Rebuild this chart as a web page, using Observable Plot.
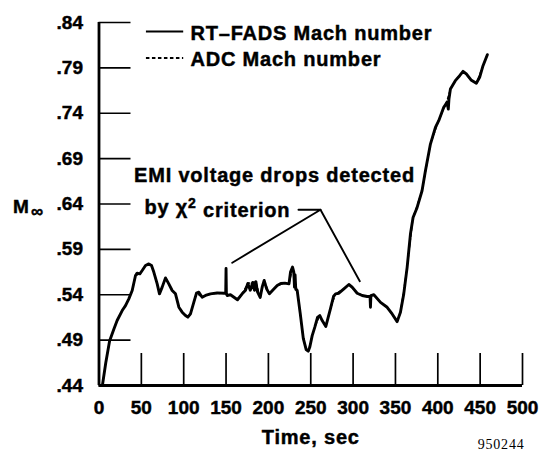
<!DOCTYPE html>
<html><head><meta charset="utf-8">
<script src="https://cdn.jsdelivr.net/npm/d3@7"></script>
<script src="https://cdn.jsdelivr.net/npm/@observablehq/plot@0.6"></script>
<style>
body{margin:0;background:#fff;}
#chart{width:548px;height:452px;}
g[aria-label="text"] text{letter-spacing:0.8px;}
svg text.heavy{stroke:#000;stroke-width:0.45px;}
</style></head><body><div id="chart"></div>
<script>
// RT-FADS Mach number (solid line)
const fadsTime = [4,8,12.5,17.5,21.4,27.4,31.3,35.2,39.2,43.1,45,48.2,51,54.9,58.8,62,64.7,68.7,71.4,74.6,78.5,82.4,86.4,90.3,94.3,98.2,102.1,104.9,108,112,115.1,117.9,121.8,125.7,131.6,139.5,147.4,149.6,150.0,150.4,151.3,155.2,163.5,169,173,175.7,178.6,181.5,183.5,185.2,187,190.3,192.8,195,197.9,201.2,205.6,210.4,214.6,219.4,224.3,226.1,228.5,230,230.8,231.5,232.3,234,237.5,241.2,244.6,247,248.9,251.7,254.8,258,260.7,263.5,267.8,270.2,273.3,277,279.3,283.2,289.1,295,298.9,304.8,310.7,316.6,320.0,320.5,321.0,324.5,332.4,340.2,346.1,352,355.9,359.8,363.8,367.7,370.8,375.6,381.4,385.4,391.3,397.2,401.1,407,410.9,412.4,413.2,414.9,420.7,425.8,429.8,433.7,439.2,445.5,449.4,453.4,458.5];
const fadsMach = [0.440,0.465,0.489,0.502,0.5116,0.5226,0.528,0.5355,0.5447,0.5612,0.5638,0.563,0.5667,0.5722,0.574,0.5722,0.565,0.552,0.541,0.5484,0.5586,0.552,0.5447,0.541,0.5263,0.5208,0.5171,0.5153,0.519,0.5318,0.5417,0.5428,0.5373,0.5392,0.541,0.5421,0.5417,0.5417,0.5690,0.5410,0.5392,0.540,0.5345,0.5410,0.5450,0.5525,0.5450,0.5535,0.5450,0.5545,0.5435,0.5370,0.5490,0.5557,0.5465,0.5410,0.5454,0.5502,0.5525,0.5528,0.5520,0.5649,0.5706,0.5649,0.5484,0.5620,0.5460,0.5447,0.5200,0.4920,0.4795,0.4778,0.4825,0.4950,0.5043,0.5150,0.5171,0.5116,0.5050,0.5138,0.5248,0.5385,0.5410,0.5417,0.5465,0.5513,0.5484,0.5417,0.5392,0.5381,0.5385,0.5263,0.5390,0.5400,0.5316,0.5262,0.5188,0.5104,0.5207,0.5409,0.5702,0.6069,0.6252,0.6362,0.6546,0.6766,0.7060,0.7244,0.7318,0.7465,0.7520,0.7446,0.7560,0.7667,0.7759,0.7814,0.7862,0.7833,0.7767,0.7730,0.7796,0.7924,0.8045];
// ADC Mach number (dotted line, mostly hidden under the RT-FADS trace)
const adcTime = [4,8,12.5,17.5,21.4,27.4,31.3,35.2,39.2,43.1,48.2,54.9,58.8,62,64.7,68.7,71.4,74.6,78.5,82.4,86.4,90.3,94.3,98.2,104.9,108,112,115.1,121.8,131.6,147.4,155.2,163.5,169,175.7,181.5,185.2,190.3,195,201.2,210.4,219.4,224.3,228.5,232.3,234,237.5,241.2,244.6,247,251.7,254.8,260.7,263.5,267.8,273.3,279.3,289.1,295,304.8,316.6,324.5,332.4,340.2,352,355.9,363.8,370.8,381.4,391.3,401.1,410.9,414.9,420.7,429.8,439.2,445.5,453.4,458.5];
const adcMach = [0.440,0.465,0.489,0.502,0.5116,0.5226,0.528,0.5355,0.5447,0.5612,0.563,0.5722,0.574,0.5722,0.565,0.552,0.541,0.5484,0.5586,0.552,0.5447,0.541,0.5263,0.5208,0.5153,0.519,0.5318,0.5417,0.5373,0.541,0.5417,0.540,0.5345,0.5410,0.5525,0.5535,0.5545,0.5370,0.5557,0.5410,0.5502,0.5528,0.5520,0.5690,0.5500,0.5447,0.5200,0.4920,0.4795,0.4778,0.4950,0.5043,0.5171,0.5116,0.5050,0.5248,0.5410,0.5465,0.5513,0.5417,0.5381,0.5400,0.5316,0.5262,0.5104,0.5207,0.5702,0.6252,0.6546,0.7060,0.7318,0.7540,0.7667,0.7759,0.7862,0.7767,0.7730,0.7924,0.8045];

const xTicks = [0,50,100,150,200,250,300,350,400,450,500];
const yTicks = [0.44,0.49,0.54,0.59,0.64,0.69,0.74,0.79,0.84];
const yTickLabels = [".44",".49",".54",".59",".64",".69",".74",".79",".84"];
const legendLabels = ["RT\u2013FADS Mach number","ADC Mach number"];
const noteLines = ["EMI voltage drops detected","by \u03c7\u00b2 criterion"];
const xTitle = "Time, sec";
const yTitle = "M";
const yTitleSub = "\u221e";
const figureId = "950244";

const fads = fadsTime.map((t,i)=>({t, m: fadsMach[i]}));
const adc = adcTime.map((t,i)=>({t, m: adcMach[i]}));

// annotation anchors (data space)
const legendRows = [
  {x1: 56, x2: 100, xt: 108, y: 0.8301, label: legendLabels[0]},
  {x1: 56, x2: 100, xt: 108, y: 0.8009, label: legendLabels[1]}
];
const noteText = [
  {x: 41.4, y: 0.6639, label: noteLines[0]},
  {x: 53.7, y: 0.6292, label: noteLines[1]}
];
const leaderA = [{t:235.5,m:0.6336},{t:261.5,m:0.6336},{t:157.3,m:0.5753}];
const leaderB = [{t:261.5,m:0.6336},{t:307.9,m:0.5549}];

const font = "'Liberation Sans', Arial, Helvetica, sans-serif";

const chart = Plot.plot({
  width: 548, height: 452,
  marginLeft: 98.5, marginRight: 26, marginTop: 22, marginBottom: 67,
  x: {domain: [0, 500]},
  y: {domain: [0.44, 0.84]},
  style: {background: "#fff", color: "#000", fontFamily: font, fontWeight: "bold", overflow: "visible"},
  marks: [
    Plot.axisX({ticks: xTicks, tickSize: -32, tickPadding: 47, fontSize: 19, strokeWidth: 1.7, label: null, tickFormat: d => String(d)}),
    Plot.axisY({ticks: yTicks, tickSize: -32, tickPadding: 48, fontSize: 19, strokeWidth: 1.7, label: null, tickFormat: (d) => yTickLabels[yTicks.findIndex(v => Math.abs(v - d) < 1e-9)]}),
    Plot.ruleX([0], {strokeWidth: 2.8}),
    Plot.ruleY([0.44], {strokeWidth: 2.8}),
    Plot.line(adc, {x: "t", y: "m", stroke: "#000", strokeWidth: 1.4, strokeDasharray: "3,2.5"}),
    Plot.line(fads, {x: "t", y: "m", stroke: "#000", strokeWidth: 2.9, strokeLinejoin: "round"}),
    Plot.line(leaderA, {x: "t", y: "m", stroke: "#000", strokeWidth: 1.9}),
    Plot.line(leaderB, {x: "t", y: "m", stroke: "#000", strokeWidth: 1.9}),
    Plot.ruleY([legendRows[0]], {x1: "x1", x2: "x2", y: "y", strokeWidth: 1.9}),
    Plot.ruleY([legendRows[1]], {x1: "x1", x2: "x2", y: "y", strokeWidth: 1.8, strokeDasharray: "3.5,2.5"}),
    Plot.text(legendRows, {x: "xt", y: "y", text: "label", textAnchor: "start", fontSize: 20, dy: 2}),
    Plot.text(noteText, {x: "x", y: "y", text: "label", textAnchor: "start", lineAnchor: "bottom", fontSize: 20}),
    Plot.text([xTitle], {frameAnchor: "bottom", text: d => d, lineAnchor: "bottom", dy: 58, fontSize: 20}),
    Plot.text([figureId], {frameAnchor: "bottom-right", text: d => d, textAnchor: "end", lineAnchor: "bottom", dy: 63, dx: 2, fontSize: 14, fontWeight: "normal", fontFamily: "'Liberation Serif', 'Times New Roman', serif"}),
    Plot.text([yTitle], {frameAnchor: "left", text: d => d, textAnchor: "start", lineAnchor: "bottom", dx: -86, dy: 8.5, fontSize: 19}),
    Plot.text([yTitleSub], {frameAnchor: "left", text: d => d, textAnchor: "start", lineAnchor: "bottom", dx: -68, dy: 13, fontSize: 17})
  ]
});
// heavier weight for the bold lettering, like the scanned original
d3.select(chart).selectAll("text").each(function() {
  const t = d3.select(this);
  if (t.text() !== figureId) t.classed("heavy", true);
  if (t.text() === noteLines[1]) {
    t.text(null);
    t.append("tspan").text("by \u03c7");
    t.append("tspan").attr("dy", "-0.45em").attr("font-size", "14px").text("2");
    t.append("tspan").attr("dy", "0.45em").text(" criterion");
  }
});
document.getElementById("chart").appendChild(chart);
</script>
</body></html>
